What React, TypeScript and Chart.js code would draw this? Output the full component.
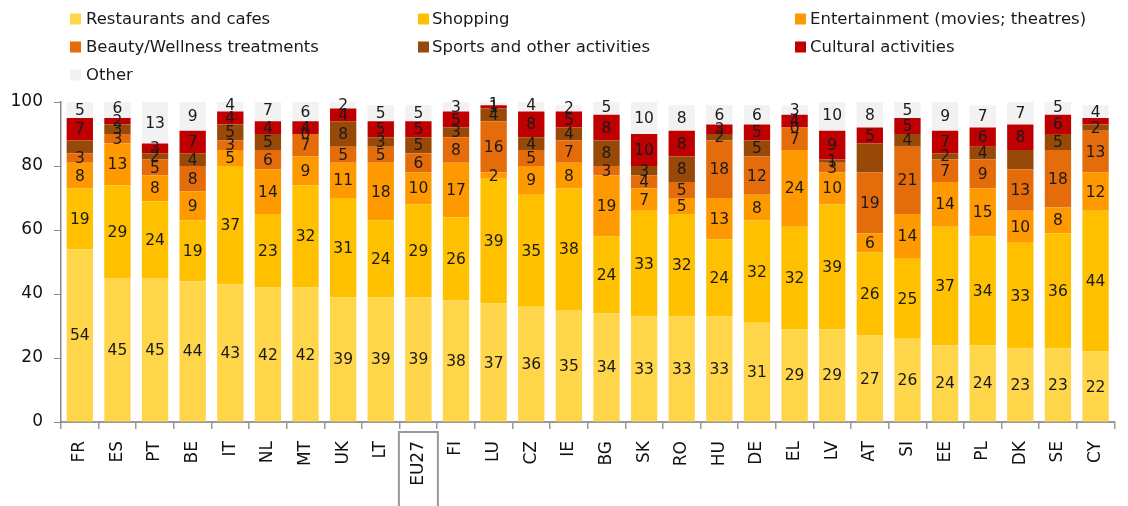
import React, { useEffect, useRef } from "react";
import { Chart, registerables } from "chart.js";

Chart.register(...registerables);

const countries = ["FR","ES","PT","BE","IT","NL","MT","UK","LT","EU27","FI","LU","CZ","IE","BG","SK","RO","HU","DE","EL","LV","AT","SI","EE","PL","DK","SE","CY"];
const restaurants = [54,45,45,44,43,42,42,39,39,39,38,37,36,35,34,33,33,33,31,29,29,27,26,24,24,23,23,22];
const shopping = [19,29,24,19,37,23,32,31,24,29,26,39,35,38,24,33,32,24,32,32,39,26,25,37,34,33,36,44];
const entertainment = [8,13,8,9,5,14,9,11,18,10,17,2,9,8,19,7,5,13,8,24,10,6,14,14,15,10,8,12];
const beauty = [3,3,5,8,3,6,7,5,5,6,8,16,5,7,3,4,5,18,12,7,3,19,21,7,9,13,18,13];
const sports = [4,3,2,4,5,5,0,8,3,5,3,4,4,4,8,3,8,2,5,0,1,9,4,2,4,6,5,2];
const cultural = [7,2,3,7,4,4,4,4,5,5,5,1,8,5,8,10,8,3,5,4,9,5,5,7,6,8,6,2];
const other = [5,6,13,9,4,7,6,2,5,5,3,1,4,2,5,10,8,6,6,3,10,8,5,9,7,7,5,4];

const seriesNames = [
  "Restaurants and cafes",
  "Shopping",
  "Entertainment (movies; theatres)",
  "Beauty/Wellness treatments",
  "Sports and other activities",
  "Cultural activities",
  "Other",
];
const seriesColors = ["#FFD54A", "#FFC000", "#FF9900", "#E46C0A", "#984807", "#C00000", "#F2F2F2"];
const seriesValues = [restaurants, shopping, entertainment, beauty, sports, cultural, other];
const yTicks = [0, 20, 40, 60, 80, 100];
// labels not shown in the original: [series, country]
const hiddenLabels = [
  ["Sports and other activities", "FR"],
  ["Sports and other activities", "AT"],
  ["Sports and other activities", "DK"],
  ["Cultural activities", "CY"],
];
const highlighted = "EU27";

const FONT = "'DejaVu Sans', sans-serif";

const overlayPlugin = {
  id: "overlay",
  afterDatasetsDraw(chart: any) {
    const ctx = chart.ctx;
    ctx.save();
    ctx.font = `15.5px ${FONT}`;
    ctx.fillStyle = "#1a1a1a";
    ctx.textAlign = "center";
    ctx.textBaseline = "middle";
    chart.data.datasets.forEach((ds: any, i: number) => {
      const meta = chart.getDatasetMeta(i);
      meta.data.forEach((bar: any, j: number) => {
        const hide = hiddenLabels.some(
          (h) => h[0] === ds.label && h[1] === countries[j]
        );
        if (hide) return;
        const cy = (bar.y + bar.base) / 2;
        ctx.fillText(String(ds.data[j]), bar.x, cy + 1);
      });
    });
    ctx.restore();
  },
  afterDraw(chart: any) {
    const ctx = chart.ctx;
    ctx.save();
    // legend
    const sqX = [70, 418, 795];
    const txX = [86, 432, 810];
    const rowY = [19, 47, 75];
    ctx.font = `16.5px ${FONT}`;
    ctx.textAlign = "left";
    ctx.textBaseline = "middle";
    seriesNames.forEach((name, i) => {
      const c = i % 3;
      const r = Math.floor(i / 3);
      ctx.fillStyle = seriesColors[i];
      ctx.fillRect(sqX[c], rowY[r] - 5.5, 11, 11);
      ctx.fillStyle = "#1a1a1a";
      ctx.fillText(name, txX[c], rowY[r] + 1);
    });
    // highlight box around EU27 label
    const xs = chart.scales.x;
    const idx = countries.indexOf(highlighted);
    if (idx >= 0) {
      const px = xs.getPixelForValue(idx);
      const w = 39;
      ctx.strokeStyle = "#999999";
      ctx.lineWidth = 2;
      ctx.strokeRect(px - w / 2, 432, w, 90);
    }
    ctx.restore();
  },
};

export default function App() {
  const ref = useRef<HTMLCanvasElement | null>(null);
  useEffect(() => {
    if (!ref.current) return;
    const chart = new Chart(ref.current, {
      type: "bar",
      data: {
        labels: countries,
        datasets: seriesNames.map((name, i) => ({
          label: name,
          data: seriesValues[i],
          backgroundColor: seriesColors[i],
          borderWidth: 0,
          barPercentage: 0.7,
          categoryPercentage: 1,
        })),
      },
      options: {
        animation: false,
        responsive: true,
        maintainAspectRatio: false,
        layout: { padding: { top: 102, right: 2, left: 0, bottom: 0 } },
        plugins: {
          legend: { display: false },
          tooltip: { enabled: false },
        },
        scales: {
          x: {
            stacked: true,
            grid: {
              offset: true,
              drawOnChartArea: false,
              drawTicks: true,
              tickLength: 7,
              color: "#999999",
              lineWidth: 1.5,
            },
            border: { display: true, color: "#999999", width: 2 },
            ticks: {
              autoSkip: false,
              minRotation: 90,
              maxRotation: 90,
              padding: 12,
              color: "#111111",
              font: { family: FONT, size: 17 },
            },
            afterFit: (s: any) => {
              s.height = 84;
            },
          },
          y: {
            stacked: true,
            min: 0,
            max: 100,
            afterBuildTicks: (s: any) => {
              s.ticks = yTicks.map((v) => ({ value: v }));
            },
            grid: {
              drawOnChartArea: false,
              drawTicks: true,
              tickLength: 7,
              color: "#888888",
            },
            border: { display: true, color: "#888888", width: 1.5 },
            ticks: {
              padding: 11,
              color: "#111111",
              font: { family: FONT, size: 17 },
            },
            afterFit: (s: any) => {
              s.width = 61;
            },
          },
        },
      },
      plugins: [overlayPlugin],
    });
    return () => chart.destroy();
  }, []);
  return (
    <div style={{ position: "absolute", left: 0, top: 0, width: 1128, height: 506, background: "#fff" }}>
      <canvas ref={ref} />
    </div>
  );
}
